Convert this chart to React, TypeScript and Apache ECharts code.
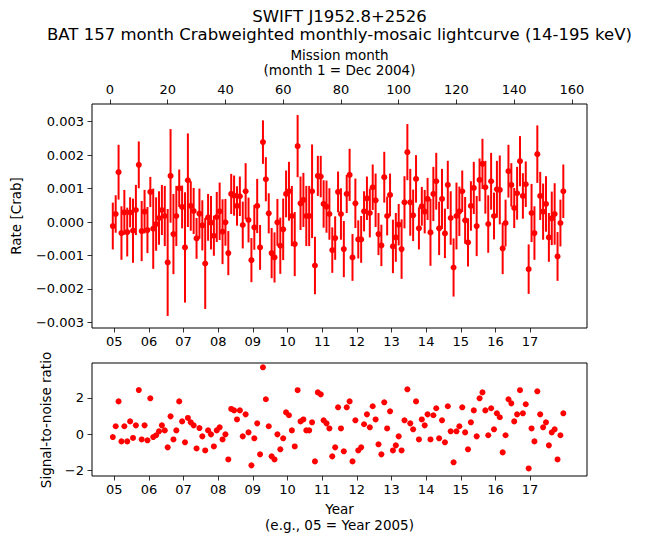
import React, { useEffect, useRef } from "react";
import * as echarts from "echarts";

// Mission months 1..157
const months: number[] = Array.from({ length: 157 }, (_, i) => i + 1);

// Rate [Crab]
const rates: number[] = [
  -0.00012, 0.00024, 0.00149, -0.00033, 0.00029, -0.0003, 0.00029, -0.00026, 0.00036, 0.00171,
  -0.00027, 0.00031, -0.00024, 0.0009, -0.0002, -0.00006, 0.00012, 0.00036, 0.00018, -0.00121,
  0.00138, -0.00036, 0.00018, 0.00101, 0.00045, -0.00076, 0.00125, 0.00048, 0.00033, -0.00049,
  0.00025, -0.0001, -0.00124, 0.00014, -0.00002, -0.00041, 0.00015, 0.00032, -0.00029, -0.00001,
  -0.00093, 0.00084, 0.00079, 0.00048, 0.00077, -0.00009, 0.00092, 0.00006, -0.00114, -0.00016,
  0.00048, -0.00076, 0.00239, 0.00128, 0.00026, -0.00093, -0.00106, -0.00001, -0.00071, -0.00022,
  0.00084, 0.00092, 0.00018, -0.00066, 0.00227, 0.00056, 0.00066, 0.00018, 0.00018, 0.00092,
  -0.0013, 0.00138, 0.00136, 0.00054, 0.00046, 0.00024, -0.00084, -0.00048, 0.0009, 0.00024,
  -0.00081, 0.00084, 0.00141, -0.00106, 0.00056, -0.00052, -0.00052, 0.00032, 0.00071, 0.00027,
  0.00104, 0.00065, -0.00036, -0.0007, 0.00134, 0.00018, 0.00081, -0.00073, -0.00046, -0.00008,
  -0.00081, 0.00059, 0.00209, 0.00059, 0.0002, 0.00129, -0.00019, 0.00047, 0.00031, 0.00069,
  -0.00031, 0.00084, 0.00122, -0.00019, 0.00069, -0.00034, 0.00111, 0.00012, -0.00136, 0.00018,
  0.00032, 0.00092, 0.00005, -0.00061, 0.00048, 0.00102, -0.00012, 0.00126, 0.00174, 0.00104,
  -0.00006, 0.00122, 0.00018, 0.00098, 0.00096, -0.00079, -0.00003, 0.00152, 0.00111, 0.00042,
  0.00086, 0.00182, 0.00078, 0.00113, -0.00141, 0.00027, -0.00033, 0.00203, 0.00078, 0.00031,
  0.00054, -0.00046, 0.00011, 0.00024, -0.00103, -0.00003, 0.00092,
];

// 1-sigma errors [Crab]
const errors: number[] = [
  0.0007, 0.00056, 0.00082, 0.0008, 0.00067, 0.00073, 0.00045, 0.00096, 0.00075, 0.0007,
  0.0009, 0.00065, 0.00069, 0.00045, 0.0012, 0.0008, 0.0008, 0.00075, 0.0009, 0.0016,
  0.0014, 0.0012, 0.0009, 0.00056, 0.00064, 0.00165, 0.0014, 0.00074, 0.00069, 0.00061,
  0.00075, 0.00075, 0.00136, 0.0007, 0.0008, 0.0006, 0.00075, 0.00086, 0.00097, 0.0007,
  0.00066, 0.0006, 0.0006, 0.00059, 0.00059, 0.0007, 0.00084, 0.00067, 0.00066, 0.00067,
  0.00081, 0.00067, 0.00065, 0.00066, 0.0006, 0.00075, 0.00075, 0.0007, 0.00084, 0.00092,
  0.0007, 0.00088, 0.0009, 0.00096, 0.00093, 0.0008, 0.00081, 0.0009, 0.0009, 0.0014,
  0.00086, 0.0006, 0.00062, 0.00071, 0.00078, 0.00077, 0.00068, 0.00065, 0.00061, 0.00077,
  0.00084, 0.00057, 0.00078, 0.0007, 0.00074, 0.00057, 0.0007, 0.0006, 0.00065, 0.00073,
  0.00068, 0.0008, 0.00063, 0.00062, 0.00076, 0.00058, 0.00064, 0.0008, 0.00073, 0.00062,
  0.00089, 0.00078, 0.00084, 0.001, 0.00077, 0.00071, 0.00063, 0.00058, 0.00065, 0.00063,
  0.001, 0.00081, 0.00085, 0.0008, 0.0009, 0.00074, 0.00072, 0.0008, 0.00087, 0.001,
  0.00074, 0.00062, 0.0007, 0.00072, 0.00074, 0.00078, 0.0009, 0.00064, 0.00075, 0.00079,
  0.00086, 0.00085, 0.0007, 0.00085, 0.00103, 0.00077, 0.0007, 0.00079, 0.00065, 0.0006,
  0.00079, 0.00075, 0.00068, 0.00068, 0.00074, 0.00087, 0.0008, 0.00086, 0.00072, 0.00084,
  0.00083, 0.00073, 0.0008, 0.00092, 0.00073, 0.0007, 0.0008,
];

// Signal-to-noise ratio
const snr: number[] = [
  -0.17, 0.43, 1.81, -0.41, 0.43, -0.41, 0.7, -0.22, 0.48, 2.44,
  -0.3, 0.48, -0.35, 1.98, -0.17, -0.07, 0.15, 0.48, 0.2, -0.74,
  0.98, -0.3, 0.2, 1.81, 0.7, -0.46, 0.89, 0.65, 0.48, -0.8,
  0.33, -0.13, -0.91, 0.2, -0.02, -0.69, 0.2, 0.37, -0.3, -0.02,
  -1.41, 1.39, 1.31, 0.81, 1.31, -0.13, 1.09, 0.09, -1.74, -0.24,
  0.59, -1.13, 3.7, 1.93, 0.43, -1.24, -1.41, -0.02, -0.85, -0.24,
  1.2, 1.04, 0.2, -0.69, 2.43, 0.7, 0.81, 0.2, 0.2, 0.65,
  -1.52, 2.31, 2.2, 0.76, 0.59, 0.31, -1.24, -0.74, 1.48, 0.31,
  -0.96, 1.48, 1.81, -1.52, 0.76, -0.91, -0.74, 0.54, 1.09, 0.37,
  1.54, 0.81, -0.57, -1.13, 1.76, 0.31, 1.26, -0.91, -0.63, -0.13,
  -0.91, 0.76, 2.48, 0.59, 0.26, 1.81, -0.3, 0.81, 0.48, 1.09,
  -0.3, 1.04, 1.43, -0.24, 0.76, -0.46, 1.54, 0.15, -1.57, 0.15,
  0.43, 1.48, 0.09, -0.85, 0.65, 1.31, -0.13, 1.98, 2.31, 1.31,
  -0.07, 1.43, 0.26, 1.15, 0.93, -1.02, -0.07, 1.93, 1.7, 0.7,
  1.09, 2.43, 1.15, 1.65, -1.91, 0.31, -0.41, 2.37, 1.09, 0.37,
  0.65, -0.63, 0.09, 0.26, -1.41, -0.07, 1.15,
];

// Tick positions / labels
const monthTicks: number[] = [0, 20, 40, 60, 80, 100, 120, 140, 160];
const yearTicks: number[] = [1.5, 13.5, 25.5, 37.5, 49.5, 61.5, 73.5, 85.5, 97.5, 109.5, 121.5, 133.5, 145.5];
const yearLabels: string[] = ["05", "06", "07", "08", "09", "10", "11", "12", "13", "14", "15", "16", "17"];
const rateTicks: number[] = [-0.003, -0.002, -0.001, 0, 0.001, 0.002, 0.003];
const snrTicks: number[] = [-2, 0, 2];

const FONT = "'DejaVu Sans', sans-serif";
const RED = "#ff0000";
const TICK_FS = 13;
const LABEL_FS = 13.5;
const TITLE_FS = 16.5;

const minus = (s: string) => s.replace("-", "\u2212");

export default function App() {
  const ref = useRef<HTMLDivElement>(null);
  useEffect(() => {
    if (!ref.current) return;
    const chart = echarts.init(ref.current, undefined, { renderer: "svg" });

    const labelBase = { color: "#000", fontSize: TICK_FS, fontFamily: FONT };
    const tickBase = { show: true, inside: false, length: 4.5, lineStyle: { color: "#000", width: 0.8 } };
    const noLine = { show: false, onZero: false };

    const yearAxis = (gridIndex: number) => ({
      type: "value",
      gridIndex,
      position: "bottom",
      min: -6.2,
      max: 165.2,
      axisLine: noLine,
      splitLine: { show: false },
      axisTick: { ...tickBase, customValues: yearTicks },
      axisLabel: {
        ...labelBase,
        margin: 7,
        customValues: yearTicks,
        formatter: (v: number) => {
          const i = yearTicks.findIndex((t) => Math.abs(t - v) < 1e-6);
          return i >= 0 ? yearLabels[i] : "";
        },
      },
    });

    const errData = months.map((m, i) => [m, rates[i] - errors[i], rates[i] + errors[i]]);

    const option: any = {
      animation: false,
      grid: [
        { left: 92, top: 104, width: 495, height: 224, show: true, borderColor: "#000", borderWidth: 1, backgroundColor: "transparent" },
        { left: 92, top: 363, width: 495, height: 113, show: true, borderColor: "#000", borderWidth: 1, backgroundColor: "transparent" },
      ],
      xAxis: [
        yearAxis(0),
        {
          type: "value",
          gridIndex: 0,
          position: "top",
          min: -6.2,
          max: 165.2,
          axisLine: noLine,
          splitLine: { show: false },
          axisTick: { ...tickBase, customValues: monthTicks },
          axisLabel: { ...labelBase, margin: 8, customValues: monthTicks, formatter: (v: number) => String(v) },
        },
        yearAxis(1),
      ],
      yAxis: [
        {
          type: "value",
          gridIndex: 0,
          min: -0.00317,
          max: 0.00353,
          axisLine: noLine,
          splitLine: { show: false },
          axisTick: { ...tickBase, customValues: rateTicks },
          axisLabel: {
            ...labelBase,
            margin: 8,
            customValues: rateTicks,
            formatter: (v: number) => minus(v.toFixed(3)),
          },
        },
        {
          type: "value",
          gridIndex: 1,
          min: -2.33,
          max: 3.94,
          axisLine: noLine,
          splitLine: { show: false },
          axisTick: { ...tickBase, customValues: snrTicks },
          axisLabel: {
            ...labelBase,
            margin: 8,
            customValues: snrTicks,
            formatter: (v: number) => minus(String(v)),
          },
        },
      ],
      series: [
        {
          type: "custom",
          xAxisIndex: 0,
          yAxisIndex: 0,
          data: errData,
          encode: { x: 0, y: [1, 2] },
          renderItem: (params: any, api: any) => {
            const x = api.value(0);
            const p1 = api.coord([x, api.value(1)]);
            const p2 = api.coord([x, api.value(2)]);
            return {
              type: "line",
              shape: { x1: p1[0], y1: p1[1], x2: p2[0], y2: p2[1] },
              style: { stroke: RED, lineWidth: 2 },
            };
          },
        },
        {
          type: "scatter",
          xAxisIndex: 0,
          yAxisIndex: 0,
          symbol: "circle",
          symbolSize: 6,
          itemStyle: { color: RED, opacity: 1 },
          data: months.map((m, i) => [m, rates[i]]),
        },
        {
          type: "scatter",
          xAxisIndex: 2,
          yAxisIndex: 1,
          symbol: "circle",
          symbolSize: 6,
          itemStyle: { color: RED, opacity: 1 },
          data: months.map((m, i) => [m, snr[i]]),
        },
      ],
      graphic: [
        { type: "text", x: 339.5, y: 16, style: { text: "SWIFT J1952.8+2526", fill: "#000", font: `${TITLE_FS}px ${FONT}`, align: "center", verticalAlign: "middle" } },
        { type: "text", x: 339.5, y: 34, style: { text: "BAT 157 month Crabweighted monthly-mosaic lightcurve (14-195 keV)", fill: "#000", font: `${TITLE_FS}px ${FONT}`, align: "center", verticalAlign: "middle" } },
        { type: "text", x: 339.5, y: 55, style: { text: "Mission month", fill: "#000", font: `${LABEL_FS}px ${FONT}`, align: "center", verticalAlign: "middle" } },
        { type: "text", x: 339.5, y: 70, style: { text: "(month 1 = Dec 2004)", fill: "#000", font: `${LABEL_FS}px ${FONT}`, align: "center", verticalAlign: "middle" } },
        { type: "text", x: 339.5, y: 509, style: { text: "Year", fill: "#000", font: `${LABEL_FS}px ${FONT}`, align: "center", verticalAlign: "middle" } },
        { type: "text", x: 339.5, y: 525, style: { text: "(e.g., 05 = Year 2005)", fill: "#000", font: `${LABEL_FS}px ${FONT}`, align: "center", verticalAlign: "middle" } },
        { type: "text", x: 16, y: 216, rotation: Math.PI / 2, style: { text: "Rate [Crab]", fill: "#000", font: `${LABEL_FS}px ${FONT}`, align: "center", verticalAlign: "middle" } },
        { type: "text", x: 46, y: 420, rotation: Math.PI / 2, style: { text: "Signal-to-noise ratio", fill: "#000", font: `${LABEL_FS}px ${FONT}`, align: "center", verticalAlign: "middle" } },
      ],
    };

    chart.setOption(option);
    return () => chart.dispose();
  }, []);

  return <div ref={ref} style={{ position: "absolute", left: 0, top: 0, width: 646, height: 543 }} />;
}
